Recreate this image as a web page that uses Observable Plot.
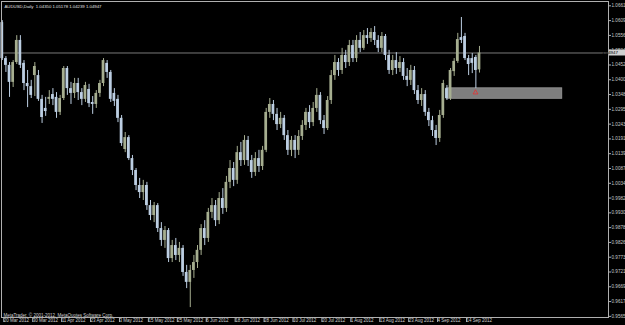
<!DOCTYPE html>
<html><head><meta charset="utf-8">
<script src="https://cdn.jsdelivr.net/npm/d3@7"></script>
<script src="https://cdn.jsdelivr.net/npm/@observablehq/plot@0.6"></script>
<style>html,body{margin:0;padding:0;background:#000;overflow:hidden}</style>
</head><body><div id="chart"></div>
<script>
const title = "AUDUSD,Daily  1.04350 1.05178 1.04239 1.04947";
const copyright = "MetaTrader, \u00a9 2001-2012, MetaQuotes Software Corp.";

const open = [
1.0602,1.0475,1.0451,1.0391,1.0461,1.0539,1.0458,1.0387,1.0376,1.0415,
1.0415,1.0331,1.0299,1.0331,1.0348,1.0338,1.0285,1.0334,1.0440,1.0369,
1.0352,1.0387,1.0355,1.0331,1.0366,1.0320,1.0313,1.0352,1.0387,1.0458,
1.0426,1.0352,1.0331,1.0264,1.0154,1.0196,1.0122,1.0080,1.0027,1.0002,
1.0027,0.9956,0.9921,0.9956,0.9875,0.9833,0.9868,0.9769,0.9815,0.9780,
0.9805,0.9720,0.9685,0.9727,0.9755,0.9798,0.9875,0.9840,0.9932,0.9956,
0.9903,0.9981,0.9946,1.0038,1.0087,1.0045,1.0143,1.0115,1.0186,1.0115,
1.0073,1.0122,1.0094,1.0151,1.0285,1.0313,1.0278,1.0242,1.0264,1.0203,
1.0151,1.0186,1.0151,1.0200,1.0239,1.0285,1.0249,1.0299,1.0345,1.0256,
1.0228,1.0327,1.0415,1.0461,1.0433,1.0486,1.0461,1.0521,1.0475,1.0539,
1.0511,1.0556,1.0546,1.0567,1.0539,1.0511,1.0553,1.0486,1.0433,1.0468,
1.0440,1.0461,1.0412,1.0398,1.0433,1.0362,1.0327,1.0348,1.0285,1.0256,
1.0221,1.0193,1.0274,1.0369,1.0334,1.0429,1.0465,1.0549,1.0553,1.0475,
1.0475,1.0479,1.04350];
const high = [
1.0609,1.0482,1.0461,1.0468,1.0556,1.0556,1.0468,1.0433,1.0398,1.0461,
1.0433,1.0345,1.0338,1.0362,1.0369,1.0355,1.0345,1.0447,1.0447,1.0391,
1.0405,1.0405,1.0369,1.0391,1.0384,1.0341,1.0362,1.0398,1.0475,1.0468,
1.0433,1.0369,1.0345,1.0274,1.0214,1.0203,1.0133,1.0087,1.0052,1.0045,
1.0038,0.9974,0.9967,0.9963,0.9896,0.9882,0.9875,0.9833,0.9840,0.9826,
0.9815,0.9745,0.9745,0.9780,0.9815,0.9889,0.9903,0.9946,0.9981,0.9974,
1.0002,1.0016,1.0059,1.0115,1.0108,1.0165,1.0179,1.0203,1.0200,1.0133,
1.0143,1.0151,1.0165,1.0299,1.0334,1.0327,1.0299,1.0285,1.0274,1.0221,
1.0200,1.0203,1.0221,1.0256,1.0299,1.0309,1.0320,1.0369,1.0355,1.0274,
1.0341,1.0433,1.0486,1.0475,1.0511,1.0504,1.0539,1.0539,1.0556,1.0567,
1.0574,1.0581,1.0581,1.0588,1.0556,1.0567,1.0560,1.0504,1.0486,1.0496,
1.0482,1.0475,1.0440,1.0451,1.0447,1.0380,1.0369,1.0362,1.0299,1.0271,
1.0239,1.0292,1.0398,1.0380,1.0440,1.0475,1.0564,1.0620,1.0564,1.0486,
1.0493,1.0486,1.05178];
const low = [
1.0468,1.0426,1.0338,1.0373,1.0454,1.0440,1.0362,1.0302,1.0334,1.0341,
1.0324,1.0246,1.0271,1.0313,1.0309,1.0264,1.0274,1.0327,1.0345,1.0313,
1.0334,1.0327,1.0309,1.0320,1.0302,1.0278,1.0299,1.0338,1.0376,1.0405,
1.0320,1.0306,1.0249,1.0165,1.0143,1.0115,1.0062,1.0009,0.9981,0.9974,
0.9939,0.9903,0.9896,0.9861,0.9812,0.9805,0.9755,0.9755,0.9762,0.9755,
0.9706,0.9663,0.9596,0.9699,0.9734,0.9780,0.9815,0.9826,0.9910,0.9882,
0.9889,0.9925,0.9932,1.0016,1.0023,1.0031,1.0094,1.0098,1.0094,1.0052,
1.0059,1.0073,1.0080,1.0143,1.0264,1.0256,1.0221,1.0228,1.0186,1.0133,
1.0129,1.0122,1.0133,1.0186,1.0221,1.0228,1.0235,1.0285,1.0242,1.0207,
1.0221,1.0313,1.0398,1.0412,1.0419,1.0440,1.0447,1.0461,1.0461,1.0496,
1.0504,1.0525,1.0532,1.0521,1.0496,1.0496,1.0468,1.0419,1.0415,1.0419,
1.0426,1.0398,1.0376,1.0380,1.0348,1.0313,1.0306,1.0271,1.0235,1.0200,
1.0168,1.0179,1.0264,1.0327,1.0327,1.0412,1.0458,1.0528,1.0468,1.0415,
1.0422,1.0369,1.04239];
const close = [
1.0475,1.0451,1.0391,1.0461,1.0539,1.0451,1.0387,1.0376,1.0345,1.0447,
1.0331,1.0267,1.0288,1.0338,1.0331,1.0285,1.0334,1.0440,1.0369,1.0352,
1.0387,1.0355,1.0331,1.0380,1.0316,1.0313,1.0352,1.0387,1.0468,1.0426,
1.0331,1.0324,1.0264,1.0175,1.0196,1.0122,1.0080,1.0027,1.0002,1.0027,
0.9956,0.9921,0.9956,0.9875,0.9833,0.9868,0.9769,0.9815,0.9780,0.9805,
0.9720,0.9685,0.9727,0.9755,0.9798,0.9875,0.9840,0.9932,0.9956,0.9903,
0.9981,0.9946,1.0038,1.0087,1.0045,1.0143,1.0115,1.0186,1.0115,1.0073,
1.0122,1.0094,1.0151,1.0285,1.0313,1.0278,1.0242,1.0264,1.0203,1.0151,
1.0186,1.0151,1.0200,1.0239,1.0285,1.0249,1.0299,1.0345,1.0256,1.0228,
1.0327,1.0415,1.0461,1.0433,1.0486,1.0461,1.0521,1.0475,1.0539,1.0511,
1.0556,1.0546,1.0567,1.0539,1.0511,1.0553,1.0486,1.0433,1.0468,1.0440,
1.0461,1.0412,1.0398,1.0433,1.0362,1.0327,1.0348,1.0285,1.0256,1.0221,
1.0193,1.0274,1.0387,1.0334,1.0433,1.0465,1.0542,1.0539,1.0475,1.0454,
1.0458,1.0433,1.04947];

const dateLabels = ["20 Mar 2012","30 Mar 2012","11 Apr 2012","23 Apr 2012","3 May 2012","15 May 2012","25 May 2012","6 Jun 2012","18 Jun 2012","28 Jun 2012","10 Jul 2012","20 Jul 2012","1 Aug 2012","13 Aug 2012","23 Aug 2012","4 Sep 2012","14 Sep 2012"];
const dateLabelBars = [0,8,16,24,32,40,48,56,64,72,80,88,96,104,112,120,128];

const priceTicks = [0.95650,0.96172,0.96694,0.97216,0.97738,0.98260,0.98782,0.99304,0.99826,1.00348,1.00870,1.01392,1.01914,1.02436,1.02958,1.03480,1.04002,1.04524,1.05046,1.05568,1.06090,1.06612];

const bid = 1.04947;
const zoneStart = [122.9], zoneEnd = [154.9], zoneLow = [1.0333], zoneHigh = [1.0370];
const markerBar = [130.9], markerPrice = [1.0355];

const bull = "#a6ae90", bear = "#bccee2";
const bars = open.map((o, i) => ({i, o, h: high[i], l: low[i], c: close[i], col: close[i] >= o ? bull : bear}));
const zones = zoneStart.map((s, k) => ({s, e: zoneEnd[k], lo: zoneLow[k], hi: zoneHigh[k]}));
const markers = markerBar.map((b, k) => ({b, p: markerPrice[k]}));

const W = 625, H = 325, mL = 1, mR = 17, mT = 1, mB = 8;
const pxPerBar = 3.615, firstX = 1.8;
const xDomain = [(mL - firstX) / pxPerBar, (W - mR - firstX) / pxPerBar];
const yDomain = [0.956099, 1.067647];

function bidLabel(index, scales, values, dimensions) {
  const y = scales.y(bid);
  const x0 = dimensions.width - dimensions.marginRight;
  const g = d3.create("svg:g");
  g.append("rect").attr("x", x0 + 1).attr("y", y - 3).attr("width", dimensions.marginRight - 1).attr("height", 6).attr("fill", "#d0d0d0");
  g.append("text").attr("x", x0 + 2).attr("y", y).attr("dy", "0.34em").attr("fill", "#000").attr("font-size", 4.4).text(bid.toFixed(5));
  return g.node();
}

const chart = Plot.plot({
  width: W, height: H,
  marginLeft: mL, marginRight: mR, marginTop: mT, marginBottom: mB,
  style: {background: "#000", color: "#c0c0c0", fontFamily: "Liberation Sans, Arial, sans-serif", fontSize: "4.5px"},
  x: {type: "linear", domain: xDomain, axis: null},
  y: {type: "linear", domain: yDomain, axis: null},
  color: {type: "identity"},
  marks: [
    Plot.rect(zones, {x1: "s", x2: "e", y1: "lo", y2: "hi", fill: "#7e7e7e", stroke: "#9a9a9a", strokeWidth: 0.8}),
    Plot.ruleY([bid], {stroke: "#999999", strokeWidth: 0.8}),
    Plot.ruleX(bars, {x: "i", y1: "l", y2: "h", stroke: "col", strokeWidth: 1}),
    Plot.rect(bars, {x1: d => d.i - 0.38, x2: d => d.i + 0.38, y1: "o", y2: "c", fill: "col"}),
    Plot.dot(markers, {x: "b", y: "p", symbol: "triangle", r: 1.8, stroke: "#e83030", fill: "none", strokeWidth: 0.8}),
    Plot.frame({stroke: "#b0b0b0", strokeWidth: 1}),
    Plot.axisY(priceTicks, {anchor: "right", tickSize: 2, tickPadding: 1, tickFormat: d => d.toFixed(5), fontSize: 4.6, fill: "#c8c8c8", stroke: "#b0b0b0"}),
    Plot.axisX(dateLabelBars, {anchor: "bottom", tickSize: 5, tickPadding: -4, textAnchor: "start", dx: 1.5, tickFormat: d => dateLabels[dateLabelBars.indexOf(d)], fontSize: 4.5, fill: "#d0d0d0", stroke: "#b0b0b0"}),
    Plot.text([title], {frameAnchor: "top-left", dx: 3, dy: 3, text: d => d, fill: "#e0e0e0", fontSize: 4.3, lineAnchor: "top", textAnchor: "start"}),
    Plot.text([copyright], {frameAnchor: "bottom-left", dx: 2, dy: -1, text: d => d, fill: "#d0d0d0", fontSize: 4.5, lineAnchor: "bottom", textAnchor: "start"}),
    bidLabel
  ]
});
document.getElementById("chart").appendChild(chart);
</script>
</body></html>
